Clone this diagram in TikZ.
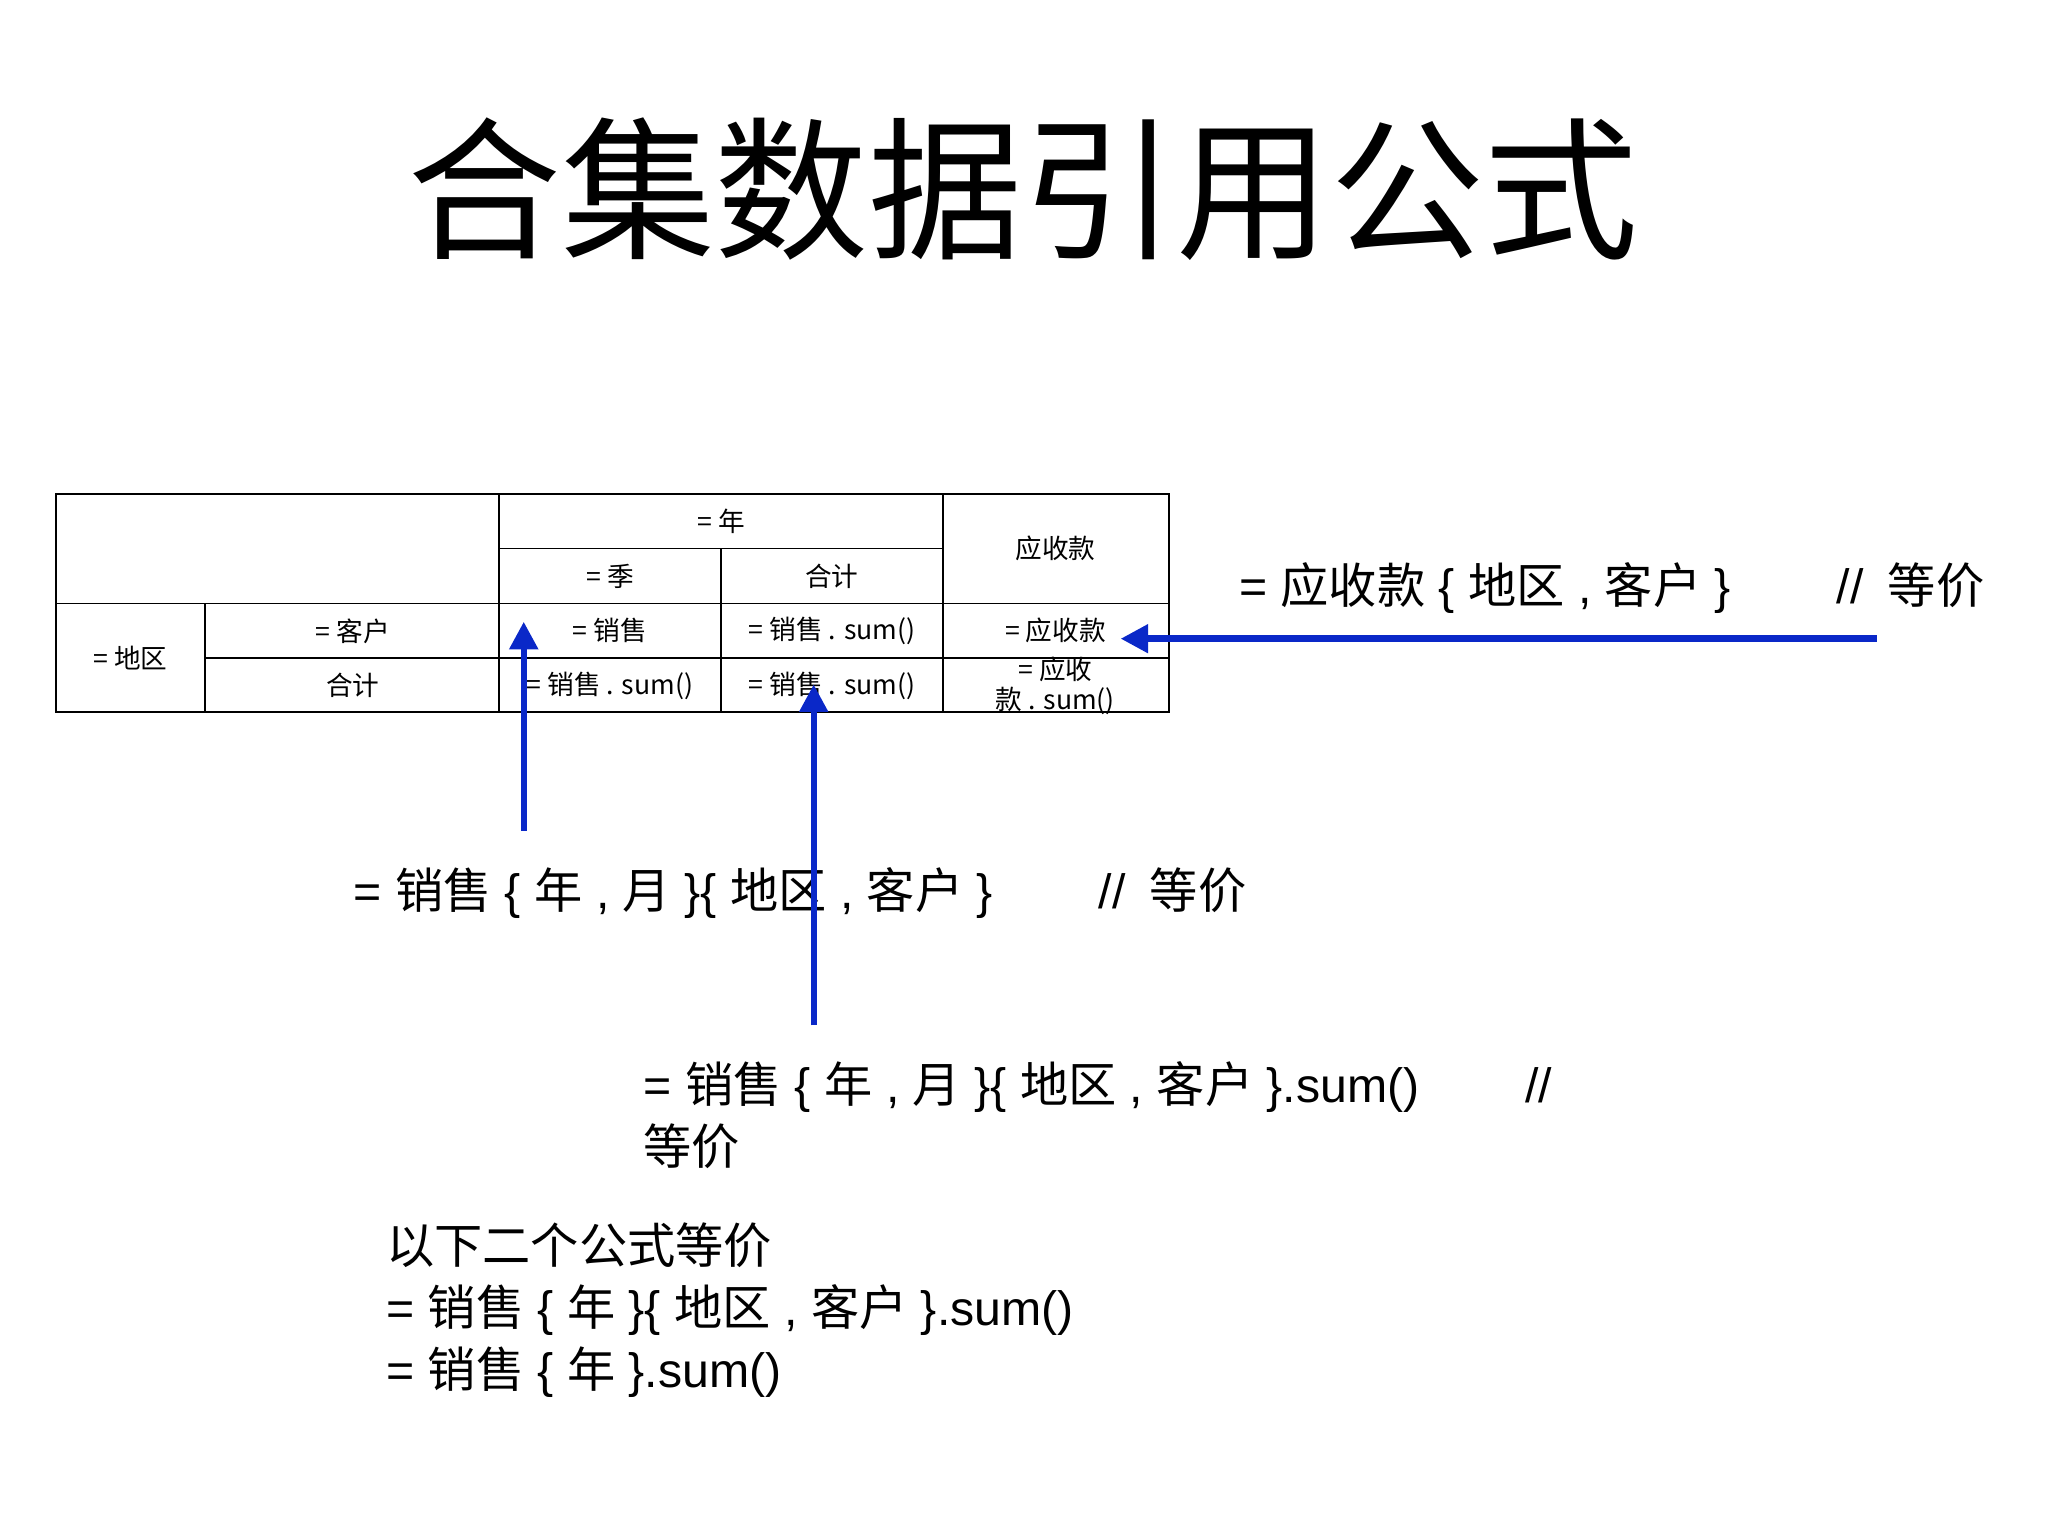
\documentclass[tikz,border=0pt]{standalone}
\usepackage{fontspec}
\setmainfont{Liberation Sans}
\newfontfamily\cjk{Noto Sans CJK SC}
\newcommand\zh[1]{{\cjk #1}}
\usetikzlibrary{arrows.meta}
\definecolor{arrblue}{RGB}{10,40,200}
\begin{document}
\begin{tikzpicture}[x=0.01cm,y=-0.01cm,
  cell/.style={font=\cjk\fontsize{5.8}{6.5}\selectfont},
  body/.style={anchor=west,font=\fontsize{10.5}{13.5}\selectfont,inner sep=0},
  arr/.style={arrblue,line width=1.4pt,-{Triangle[length=6pt,width=6pt]}}]
\useasboundingbox (0,0) rectangle (1568,1176);
\node[font=\cjk\fontsize{33.5}{36}\selectfont] (title) at (783,145) {合集数据引用公式};
% table
\draw[line width=0.5pt] (43,378) rectangle (895,545);
\draw[line width=0.4pt] (382,378) -- (382,545);
\draw[line width=0.4pt] (722,378) -- (722,545);
\draw[line width=0.4pt] (552,420) -- (552,545);
\draw[line width=0.4pt] (157,462) -- (157,545);
\draw[line width=0.4pt] (382,420) -- (722,420);
\draw[line width=0.4pt] (43,462) -- (895,462);
\draw[line width=0.4pt] (157,504) -- (895,504);
\node[cell] (c1) at (552,399) {= 年};
\node[cell] (c2) at (808,420) {应收款};
\node[cell] (c3) at (467,441) {= 季};
\node[cell] (c4) at (637,441) {合计};
\node[cell] (c5) at (100,504) {= 地区};
\node[cell] (c6) at (270,483) {= 客户};
\node[cell] (c7) at (270,525) {合计};
\node[cell] (c8) at (467,483) {= 销售};
\node[cell] (c9) at (637,483) {= 销售 . sum()};
\node[cell] (c10) at (808,483) {= 应收款};
\node[cell] (c11) at (467,525) {= 销售 . sum()};
\node[cell] (c12) at (637,525) {= 销售 . sum()};
\node[cell,align=center] (c13) at (808,525) {= 应收\\款 . sum()};
% texts
\node[body] (t1) at (948,450) {= \zh{应收款} \{ \zh{地区} , \zh{客户} \}\hspace{2.2em}//\hspace{0.5em}\zh{等价}};
\node[body] (t2) at (270,684) {= \zh{销售} \{ \zh{年} , \zh{月} \}\{ \zh{地区} , \zh{客户} \}\hspace{2.2em}//\hspace{0.5em}\zh{等价}};
\node[body,align=left] (t3) at (492,854) {= \zh{销售} \{ \zh{年} , \zh{月} \}\{ \zh{地区} , \zh{客户} \}.sum()\hspace{2.2em}//\\\zh{等价}};
\node[body,align=left] (t4) at (295,1003) {\zh{以下二个公式等价}\\= \zh{销售} \{ \zh{年} \}\{ \zh{地区} , \zh{客户} \}.sum()\\= \zh{销售} \{ \zh{年} \}.sum()};
% arrows
\coordinate (a1) at (1437,489); \coordinate (e1) at (858,489);
\coordinate (a2) at (401,636); \coordinate (e2) at (401,476);
\coordinate (a3) at (623,785); \coordinate (e3) at (623,524);
\draw[arr] (a1) -- (e1);
\draw[arr] (a2) -- (e2);
\draw[arr] (a3) -- (e3);
\end{tikzpicture}
\end{document}
